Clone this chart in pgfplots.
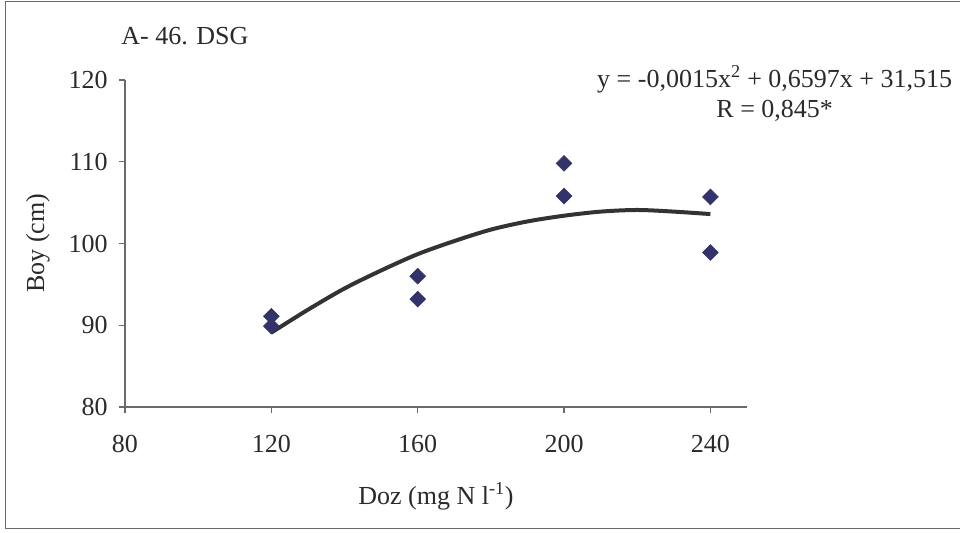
\documentclass[border=0pt]{standalone}
\usepackage{fontspec}
\setmainfont{Liberation Serif}
\usepackage{pgfplots}
\pgfplotsset{compat=1.18}

\definecolor{marknavy}{HTML}{33336B}
\definecolor{fitline}{HTML}{333333}
\definecolor{axgray}{HTML}{6A6A6A}
\definecolor{txt}{HTML}{2A2A2A}

\begin{document}
\begin{tikzpicture}
\clip (0,0) rectangle (720pt,399pt);
\draw[axgray, line width=1.2pt] (4.1pt,2.6pt) rectangle (740pt,397.9pt);

\begin{axis}[
    at={(93.75pt,93.75pt)}, anchor=origin,
    scale only axis,
    width=466.5pt, height=245.25pt,
    xmin=80, xmax=250, ymin=80, ymax=120,
    xtick={80,120,160,200,240},
    ytick={80,90,100,110,120},
    axis x line=bottom, axis y line=left,
    axis line style={axgray, line width=0.9pt, -},
    tick style={axgray, line width=0.9pt},
    tick align=outside,
    major tick length=4.5pt,
    font=\fontsize{19.5}{23}\selectfont,
    tick label style={txt},
    xticklabel style={yshift=-13pt},
    yticklabel style={xshift=-5pt},
    /pgf/number format/assume math mode=true,
    /pgf/number format/1000 sep={},
    xlabel={Doz (mg N l\textsuperscript{-1})},
    ylabel={Boy (cm)},
    xlabel style={txt, at={(axis description cs:0.5,-0.272)}, anchor=center},
    ylabel style={txt, at={(axis description cs:-0.1399,0.5015)}, anchor=center},
    clip=false,
]
\addplot[fitline, line width=3pt, smooth] coordinates {
    (120,89.1) (130,91.9) (140,94.5) (150,96.7) (160,98.7) (170,100.3)
    (180,101.7) (190,102.7) (200,103.4) (210,103.9) (220,104.1) (230,103.9) (240,103.6)
};
\addplot[only marks, mark=square*, mark size=4.2pt,
    mark options={rotate=45, fill=marknavy, draw=marknavy}] coordinates {
    (120,91.1) (120,89.9)
    (160,96.0) (160,93.2)
    (200,109.8) (200,105.8)
    (240,105.7) (240,98.9)
};
\end{axis}

\node[txt, anchor=base west, font=\fontsize{19.5}{23}\selectfont] at (87.5pt,365.25pt) {A- 46. DSG};
\node[txt, align=center, font=\fontsize{19.5}{23}\selectfont] at (581pt,329pt)
    {y = -0,0015x\textsuperscript{2} + 0,6597x + 31,515\\R = 0,845*};
\end{tikzpicture}
\end{document}
